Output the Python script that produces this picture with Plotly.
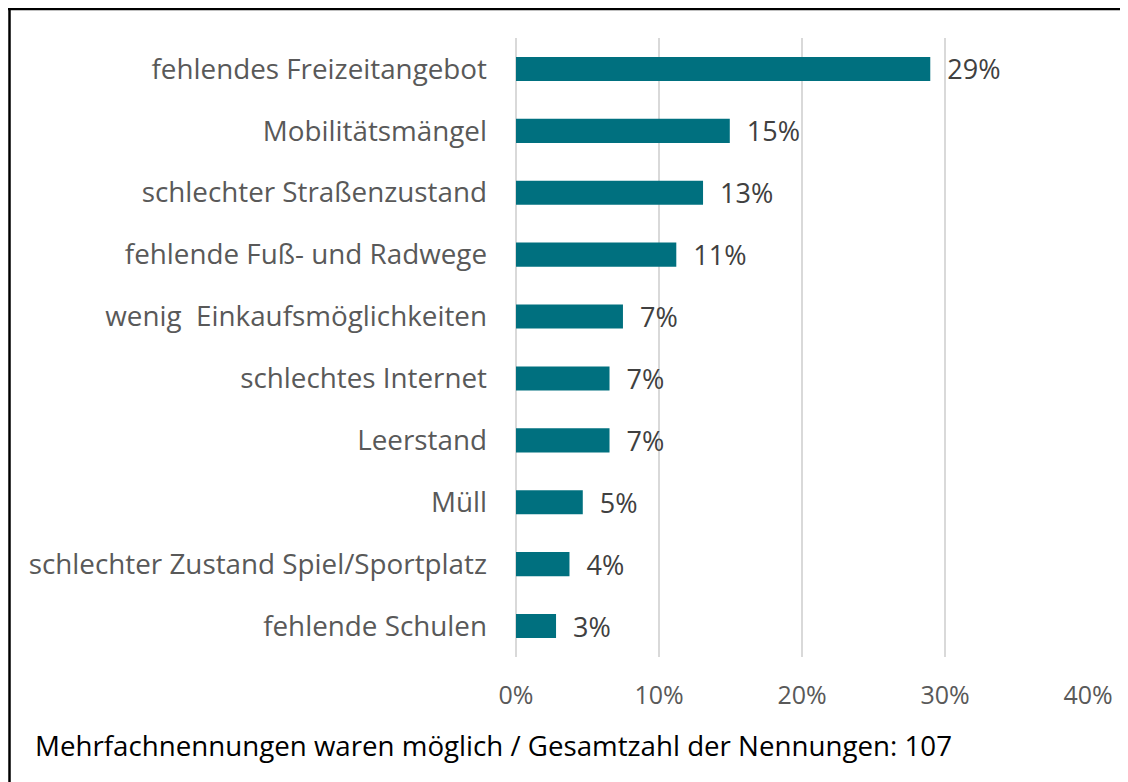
import plotly.graph_objects as go

categories = [
    "fehlendes Freizeitangebot",
    "Mobilitätsmängel",
    "schlechter Straßenzustand",
    "fehlende Fuß- und Radwege",
    "wenig\u00a0 Einkaufsmöglichkeiten",
    "schlechtes Internet",
    "Leerstand",
    "Müll",
    "schlechter Zustand Spiel/Sportplatz",
    "fehlende Schulen",
]
values = [28.97, 14.95, 13.08, 11.21, 7.48, 6.54, 6.54, 4.67, 3.74, 2.80]
labels = ["29%", "15%", "13%", "11%", "7%", "7%", "7%", "5%", "4%", "3%"]
x_ticks = [0, 10, 20, 30, 40]
x_tick_labels = ["0%", "10%", "20%", "30%", "40%"]
footnote = "Mehrfachnennungen waren möglich / Gesamtzahl der Nennungen: 107"

FONT = "Open Sans"
OFF = 8  # page body margin
W, H = 1128 - OFF, 782 - OFF
L = 516 - OFF
T = 38 - OFF
R = W - (1088 - OFF)
B = H - (657 - OFF)
pw = W - L - R
ph = H - T - B

fig = go.Figure(go.Bar(
    y=categories,
    x=values,
    orientation="h",
    marker=dict(color="#00707F", line=dict(width=0)),
    text=labels,
    texttemplate="\u00a0\u00a0%{text}",
    textposition="outside",
    constraintext="none",
    textfont=dict(family=FONT, size=27, color="#404040"),
    cliponaxis=False,
))

fig.update_layout(
    width=W, height=H, autosize=False,
    margin=dict(l=L, r=R, t=T, b=B, pad=0),
    paper_bgcolor="white", plot_bgcolor="white",
    bargap=0.61,
    showlegend=False,
    font=dict(family=FONT, size=26, color="#595959"),
    xaxis=dict(
        range=[0, 40], tickvals=x_ticks, ticktext=x_tick_labels,
        showgrid=True, gridcolor="#D9D9D9", gridwidth=1.5,
        zeroline=True, zerolinecolor="#D9D9D9", zerolinewidth=1.5,
        showline=False, ticks="",
        ticklabelstandoff=21,
        tickfont=dict(family=FONT, size=25, color="#595959"),
        fixedrange=True,
    ),
    yaxis=dict(
        categoryorder="array", categoryarray=categories[::-1],
        autorange=False, range=[-0.5, len(categories) - 0.5],
        showgrid=False, zeroline=False, showline=False, ticks="",
        ticklabelstandoff=28,
        tickfont=dict(family=FONT, size=27.8, color="#595959"),
        fixedrange=True,
    ),
)

def px_x(p):
    return (p - OFF - L) / pw

def px_y(p):
    return 1 - (p - OFF - T) / ph

# chart border (left and top edges visible; right/bottom off-canvas)
fig.add_shape(type="line", xref="paper", yref="paper",
              x0=px_x(8), x1=px_x(1140), y0=px_y(9), y1=px_y(9),
              line=dict(color="#000000", width=2.5))
fig.add_shape(type="line", xref="paper", yref="paper",
              x0=px_x(9.5), x1=px_x(9.5), y0=px_y(8), y1=px_y(800),
              line=dict(color="#000000", width=2.5))

fig.add_annotation(
    text=footnote, xref="paper", yref="paper",
    x=px_x(33), y=px_y(745), xanchor="left", yanchor="middle",
    showarrow=False, font=dict(family=FONT, size=27.7, color="#000000"),
)

fig.write_html("out.html")
